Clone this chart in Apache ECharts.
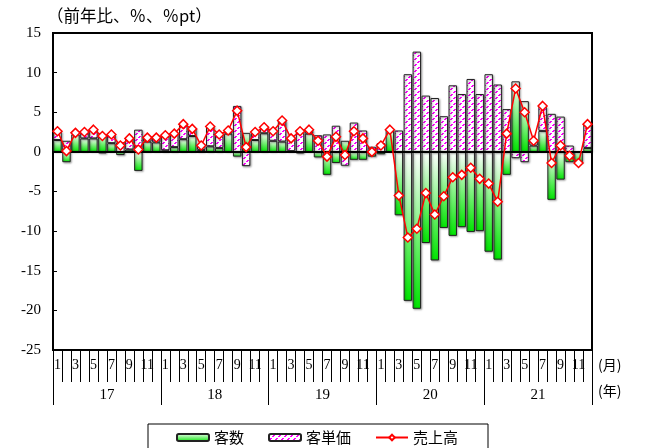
<!DOCTYPE html>
<html>
<head>
<meta charset="utf-8">
<script src="https://cdn.jsdelivr.net/npm/echarts@6/dist/echarts.min.js"></script>
<style>
  html, body { margin: 0; padding: 0; background: #fff; }
  #chart { width: 645px; height: 448px; }
</style>
</head>
<body>
<div id="chart"></div>
<script>
// Year-on-year change, monthly, Jan 2017 - Dec 2021
const years = ['17', '18', '19', '20', '21'];
const monthNames = ['1', '2', '3', '4', '5', '6', '7', '8', '9', '10', '11', '12'];
const categories = years.flatMap(y => monthNames.map(m => y + '-' + m));

// 客数 (number of customers), %
const customers = [
  1.5, -1.3, 2.2, 1.7, 1.7, 2.2, 1.1, -0.4, 0.3, -2.4, 1.3, 1.2,
  0.2, 0.6, 1.6, 2.0, 0.25, 0.7, 0.5, 2.3, -0.6, 2.4, 1.5, 2.35,
  1.4, 1.3, 0.1, -0.2, 2.3, -0.7, -2.9, -1.4, 1.4, -1.0, -1.0, -0.6,
  -0.3, 2.8, -8.0, -18.8, -19.8, -11.5, -13.7, -9.6, -10.6, -9.5, -10.1, -10.0,
  -12.6, -13.6, -2.9, 8.9, 6.4, 0.8, 2.65, -6.05, -3.5, -1.3, -1.4, 0.5
];
// 客単価 (spend per customer), %pt
const unitPrice = [
  1.1, 1.4, 0.2, 0.8, 1.0, -0.2, 1.1, 1.2, 1.4, 2.8, 0.6, 0.7,
  2.0, 1.8, 1.9, 1.0, 0.5, 2.6, 1.7, 0.5, 5.8, -1.8, 1.05, 0.75,
  1.2, 2.7, 1.7, 2.8, 0.5, 2.1, 2.2, 3.3, -1.75, 3.7, 2.7, 0.65,
  1.1, 0.05, 2.7, 9.8, 12.65, 7.1, 6.8, 4.5, 8.4, 7.3, 9.2, 7.3,
  9.8, 8.5, 5.4, -0.8, -1.3, 0.6, 3.05, 4.8, 4.45, 0.8, 0.1, 3.1
];
// 売上高 (sales), %
const sales = [
  2.6, 0.1, 2.4, 2.5, 2.8, 2.0, 2.2, 0.8, 1.7, 0.3, 1.8, 1.8,
  2.1, 2.3, 3.5, 2.9, 0.8, 3.2, 2.2, 2.7, 5.2, 0.6, 2.5, 3.1,
  2.6, 3.95, 1.7, 2.6, 2.8, 1.4, -0.6, 1.9, -0.4, 2.6, 1.7, 0.0,
  0.8, 2.8, -5.5, -10.8, -9.7, -5.2, -7.9, -5.6, -3.2, -2.9, -2.0, -3.4,
  -4.0, -6.3, 2.3, 8.0, 5.0, 1.4, 5.8, -1.4, 0.8, -0.5, -1.4, 3.5
];

const yMin = -25, yMax = 15, yStep = 5;

const serifFont = '"Liberation Serif", "DejaVu Serif", serif';
const jpFont = '"Noto Sans CJK JP", "Noto Sans", sans-serif';

// Magenta dashed diagonal hatch used for the 客単価 bars
function makeHatch() {
  const c = document.createElement('canvas');
  c.width = 6; c.height = 6;
  const g = c.getContext('2d');
  g.fillStyle = '#ffffff';
  g.fillRect(0, 0, 6, 6);
  for (let k = 0; k < 6; k++) {
    if (k % 3 === 2) continue;
    g.fillStyle = '#ff00ff';
    g.fillRect(k, 5 - k, 1, 1);
    g.fillRect((k + 1) % 6, 5 - k, 1, 1);
  }
  return c;
}
const hatch = { image: makeHatch(), repeat: 'repeat' };

const greenFill = new echarts.graphic.LinearGradient(0, 0, 0, 1, [
  { offset: 0, color: '#ffffff' },
  { offset: 1, color: '#00e400' }
]);

const barShadow = {
  shadowColor: 'rgba(0,0,0,0.35)',
  shadowBlur: 2,
  shadowOffsetX: 1,
  shadowOffsetY: 1
};

const chart = echarts.init(document.getElementById('chart'), null, { renderer: 'canvas' });

chart.setOption({
  animation: false,
  backgroundColor: '#ffffff',
  title: {
    text: '（前年比、％、％pt）',
    left: 47,
    top: 7,
    padding: 0,
    textStyle: { fontFamily: jpFont, fontSize: 16.5, fontWeight: 'normal', color: '#000' }
  },
  legend: {
    data: ['客数', '客単価', '売上高'],
    left: 148,
    top: 424,
    itemWidth: 32,
    itemHeight: 7,
    itemGap: 24,
    padding: [6, 30, 14, 28],
    borderColor: '#000',
    borderWidth: 1,
    backgroundColor: '#fff',
    textStyle: { fontFamily: jpFont, fontSize: 15, color: '#000' }
  },
  graphic: [
    { type: 'text', left: 598, top: 358, style: { text: '(月)', font: '14px ' + jpFont, fill: '#000' } },
    { type: 'text', left: 598, top: 384, style: { text: '(年)', font: '14px ' + jpFont, fill: '#000' } }
  ],
  grid: {
    left: 53, right: 53, top: 33, bottom: 98,
    show: true,
    borderColor: '#000',
    borderWidth: 2
  },
  xAxis: [
    {
      type: 'category',
      data: categories,
      position: 'bottom',
      axisLine: { show: true, onZero: false, lineStyle: { color: '#000', width: 2 } },
      axisTick: { show: true, interval: 0, length: 32, lineStyle: { color: '#000', width: 1 } },
      axisLabel: {
        interval: 0,
        margin: 8,
        fontFamily: serifFont,
        fontSize: 14,
        color: '#000',
        formatter: v => {
          const m = Number(v.split('-')[1]);
          return m % 2 === 1 ? String(m) : '';
        }
      },
      splitLine: { show: false }
    },
    {
      type: 'category',
      data: years,
      position: 'bottom',
      axisLine: { show: false, onZero: false },
      axisTick: { show: true, interval: 0, length: 55, lineStyle: { color: '#000', width: 1 } },
      axisLabel: { interval: 0, margin: 38, fontFamily: serifFont, fontSize: 15, color: '#000' },
      splitLine: { show: false }
    }
  ],
  yAxis: {
    type: 'value',
    min: yMin,
    max: yMax,
    interval: yStep,
    axisLine: { show: true, lineStyle: { color: '#000', width: 2 } },
    axisTick: { show: true, inside: true, length: 4, lineStyle: { color: '#000' } },
    axisLabel: { margin: 12, fontFamily: serifFont, fontSize: 15, color: '#000' },
    splitLine: { show: false }
  },
  series: [
    {
      name: '客数',
      type: 'bar',
      stack: 'yoy',
      xAxisIndex: 0,
      data: customers,
      barCategoryGap: '6%',
      itemStyle: Object.assign({ color: greenFill, borderColor: '#222', borderWidth: 1 }, barShadow),
      z: 2
    },
    {
      name: '客単価',
      type: 'bar',
      stack: 'yoy',
      xAxisIndex: 0,
      data: unitPrice,
      barCategoryGap: '6%',
      itemStyle: Object.assign({ color: hatch, borderColor: '#222', borderWidth: 1 }, barShadow),
      z: 2,
      markLine: {
        silent: true,
        symbol: 'none',
        label: { show: false },
        lineStyle: { color: '#000', width: 2, type: 'solid' },
        data: [{ yAxis: 0 }]
      }
    },
    {
      name: '売上高',
      type: 'line',
      xAxisIndex: 0,
      data: sales,
      symbol: 'diamond',
      symbolSize: 9,
      showAllSymbol: true,
      lineStyle: { color: '#ff0000', width: 1.5 },
      itemStyle: { color: '#ffffff', borderColor: '#ff0000', borderWidth: 1.5 },
      z: 6
    }
  ]
});
</script>
</body>
</html>
